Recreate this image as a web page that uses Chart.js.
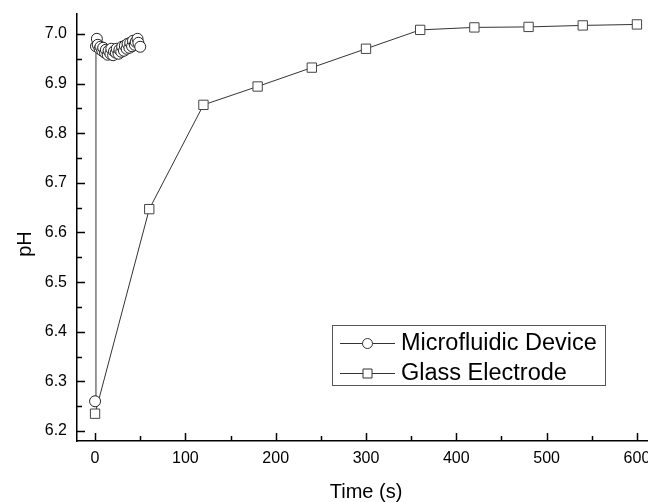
<!DOCTYPE html>
<html>
<head>
<meta charset="utf-8">
<script src="https://cdn.jsdelivr.net/npm/chart.js@4/dist/chart.umd.min.js"></script>
<style>
  html, body { margin: 0; padding: 0; background: #fff; overflow: hidden; }
  #wrap { position: relative; width: 700px; height: 502px; }
</style>
</head>
<body>
<div id="wrap"><canvas id="c" width="700" height="502"></canvas></div>
<script>
// ---- data ----
const seriesNames = ["Microfluidic Device", "Glass Electrode"];
const mfTime = [0, 1, 2, 3, 5, 6, 8, 9, 11, 12, 14, 15, 17, 18, 20, 21, 23, 24, 26, 27, 29, 30, 32, 33, 35, 36, 38, 39, 41, 42, 44, 45, 47, 48, 50];
const mfPH   = [6.260, 6.975, 6.990, 6.978, 6.970, 6.974, 6.966, 6.972, 6.962, 6.968, 6.958, 6.966, 6.960, 6.970, 6.957, 6.965, 6.962, 6.970, 6.960, 6.968, 6.964, 6.974, 6.966, 6.976, 6.970, 6.980, 6.972, 6.982, 6.975, 6.986, 6.978, 6.984, 6.990, 6.982, 6.974];
const geTime = [0, 60, 120, 180, 240, 300, 360, 420, 480, 540, 600];
const gePH   = [6.235, 6.647, 6.857, 6.894, 6.932, 6.970, 7.008, 7.013, 7.014, 7.017, 7.019];
const xTitle = "Time (s)";
const yTitle = "pH";

const toXY = (xs, ys) => xs.map((x, i) => ({ x: x, y: ys[i] }));

const FONT = "'Liberation Sans', Arial, sans-serif";

// inward ticks (major + minor) drawn from the scales
const inwardTicks = {
  id: 'inwardTicks',
  afterDraw(chart) {
    const ctx = chart.ctx;
    const xs = chart.scales.x, ys = chart.scales.y;
    const area = chart.chartArea;
    ctx.save();
    ctx.strokeStyle = '#000';
    ctx.lineWidth = 1.5;
    const xVals = xs.ticks.map(t => t.value);
    const xStep = xVals[1] - xVals[0];
    ctx.beginPath();
    for (let v = xVals[0] - xStep; v <= xs.max; v += xStep / 2) {
      if (v < xs.min) continue;
      const major = Math.abs(Math.round(v / xStep) * xStep - v) < 1e-6;
      const px = Math.round(xs.getPixelForValue(v)) + 0.5;
      ctx.moveTo(px, area.bottom);
      ctx.lineTo(px, area.bottom - (major ? 8 : 5));
    }
    const yVals = ys.ticks.map(t => t.value);
    const yStep = yVals[1] - yVals[0];
    for (let k = -1; k <= yVals.length * 2; k++) {
      const v = yVals[0] + k * yStep / 2;
      if (v < ys.min - 1e-9 || v > ys.max + 1e-9) continue;
      const major = k % 2 === 0;
      const py = Math.round(ys.getPixelForValue(v)) + 0.5;
      ctx.moveTo(area.left, py);
      ctx.lineTo(area.left + (major ? 8 : 5), py);
    }
    ctx.stroke();

    // y-axis title
    ctx.fillStyle = '#000';
    ctx.font = '20px ' + FONT;
    ctx.textAlign = 'center';
    ctx.textBaseline = 'middle';
    ctx.translate(25, 244);
    ctx.rotate(-Math.PI / 2);
    ctx.fillText(yTitle, 0, 0);
    ctx.restore();
  }
};

// boxed legend inside plot
const boxLegend = {
  id: 'boxLegend',
  afterDraw(chart, args, opts) {
    const ctx = chart.ctx;
    ctx.save();
    ctx.fillStyle = '#fff';
    ctx.fillRect(opts.x, opts.y, opts.w, opts.h);
    ctx.strokeStyle = '#555';
    ctx.lineWidth = 1;
    ctx.strokeRect(opts.x + 0.5, opts.y + 0.5, opts.w, opts.h);
    chart.data.datasets.forEach((ds, i) => {
      const cy = opts.y + opts.rowTop + i * opts.rowH;
      ctx.strokeStyle = '#333';
      ctx.lineWidth = 1;
      ctx.beginPath();
      ctx.moveTo(opts.x + 8, cy + 0.5);
      ctx.lineTo(opts.x + 63, cy + 0.5);
      ctx.stroke();
      const mx = opts.x + 35.5;
      ctx.fillStyle = '#fff';
      ctx.strokeStyle = ds.borderColor;
      ctx.beginPath();
      if (ds.pointStyle === 'circle') {
        ctx.arc(mx, cy + 0.5, 5, 0, Math.PI * 2);
      } else {
        ctx.rect(mx - 4.5, cy - 4, 9, 9);
      }
      ctx.fill();
      ctx.stroke();
      ctx.fillStyle = '#000';
      ctx.font = '23.5px ' + FONT;
      ctx.textAlign = 'left';
      ctx.textBaseline = 'middle';
      ctx.fillText(ds.label, opts.x + 69, cy + 1);
    });
    ctx.restore();
  }
};

new Chart(document.getElementById('c'), {
  type: 'line',
  data: {
    datasets: [
      {
        label: seriesNames[0],
        data: toXY(mfTime, mfPH),
        borderColor: '#333',
        borderWidth: 1,
        pointStyle: 'circle',
        pointRadius: 5.5,
        pointBorderWidth: 1,
        pointBackgroundColor: '#fff',
        pointBorderColor: '#222',
        tension: 0
      },
      {
        label: seriesNames[1],
        data: toXY(geTime, gePH),
        borderColor: '#333',
        borderWidth: 1,
        pointStyle: 'rect',
        pointRadius: 6.6,
        pointBorderWidth: 1,
        pointBackgroundColor: '#fff',
        pointBorderColor: '#444',
        tension: 0
      }
    ]
  },
  options: {
    responsive: false,
    animation: false,
    layout: { padding: { top: 14, right: 45, bottom: 0, left: 0 } },
    plugins: {
      legend: { display: false },
      tooltip: { enabled: false },
      boxLegend: { x: 332, y: 325, w: 273, h: 60, rowTop: 18, rowH: 30 }
    },
    scales: {
      x: {
        type: 'linear',
        min: -20,
        max: 620,
        border: { display: true, color: '#000', width: 1.5 },
        grid: { drawOnChartArea: false, drawTicks: false },
        ticks: {
          stepSize: 100,
          includeBounds: false,
          padding: 8,
          color: '#000',
          font: { family: FONT, size: 16 },
          maxRotation: 0
        },
        title: {
          display: true,
          text: xTitle,
          color: '#000',
          font: { family: FONT, size: 20 },
          padding: { top: 0, bottom: -2 }
        },
        afterFit(scale) { scale.height = 61; scale.paddingLeft = 0; scale.paddingRight = 0; }
      },
      y: {
        type: 'linear',
        min: 6.18,
        max: 7.04,
        border: { display: true, color: '#000', width: 1.5 },
        grid: { drawOnChartArea: false, drawTicks: false },
        ticks: {
          stepSize: 0.1,
          includeBounds: false,
          padding: 10,
          color: '#000',
          font: { family: FONT, size: 16 },
          callback: v => Number(v).toFixed(1)
        },
        afterFit(scale) { scale.width = 77; scale.paddingTop = 0; scale.paddingBottom = 0; }
      }
    }
  },
  plugins: [inwardTicks, boxLegend]
});
</script>
</body>
</html>
